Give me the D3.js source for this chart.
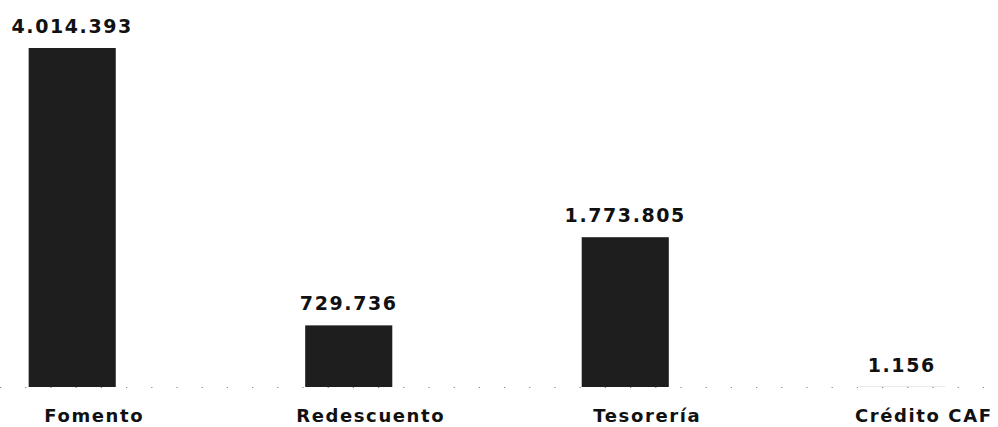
<!DOCTYPE html>
<html>
<head>
<meta charset="utf-8">
<script src="https://cdn.jsdelivr.net/npm/d3@7"></script>
<style>
  body { margin: 0; background: #fff; }
  .val { font-family: "DejaVu Sans", sans-serif; font-weight: bold; font-size: 19px; letter-spacing: 1.6px; fill: #111; }
  .cat { font-family: "DejaVu Sans", sans-serif; font-weight: bold; font-size: 18px; letter-spacing: 1.6px; fill: #111; }
</style>
</head>
<body>
<svg id="bar" width="998" height="427"></svg>
<script>
// data
var categories = ["Fomento", "Redescuento", "Tesorería", "Crédito CAF"];
var values = [4014393, 729736, 1773805, 1156];
var valueLabels = ["4.014.393", "729.736", "1.773.805", "1.156"];

var svg = d3.select("#bar"),
    width = +svg.attr("width"),
    height = +svg.attr("height"),
    baseY = 387;

var data = categories.map(function(c, i) {
  return {name: c, value: values[i], label: valueLabels[i]};
});

var x = d3.scaleBand()
  .domain(categories)
  .range([1, 973])
  .paddingInner(0.685)
  .paddingOuter(0.1);

var y = d3.scaleLinear()
  .domain([0, d3.max(values)])
  .range([baseY, 48]);

// sparse dotted baseline
svg.append("line")
  .attr("x1", 0)
  .attr("x2", 990)
  .attr("y1", baseY + 0.5)
  .attr("y2", baseY + 0.5)
  .attr("stroke", "#888")
  .attr("stroke-width", 1.2)
  .attr("stroke-dasharray", "1.2,24");

svg.selectAll(".bar")
  .data(data)
  .enter().append("rect")
    .attr("class", "bar")
    .attr("x", function(d) { return x(d.name); })
    .attr("y", function(d) { return y(d.value); })
    .attr("width", x.bandwidth())
    .attr("height", function(d) { return baseY - y(d.value); })
    .attr("fill", "#1e1e1e");

svg.selectAll(".val")
  .data(data)
  .enter().append("text")
    .attr("class", "val")
    .attr("x", function(d) { return x(d.name) + x.bandwidth() / 2; })
    .attr("y", function(d) { return y(d.value) - 15; })
    .attr("text-anchor", "middle")
    .text(function(d) { return d.label; });

svg.selectAll(".cat")
  .data(data)
  .enter().append("text")
    .attr("class", "cat")
    .attr("x", function(d) { return x(d.name) + x.bandwidth() / 2 + 22; })
    .attr("y", 422)
    .attr("text-anchor", "middle")
    .text(function(d) { return d.name; });
</script>
</body>
</html>
